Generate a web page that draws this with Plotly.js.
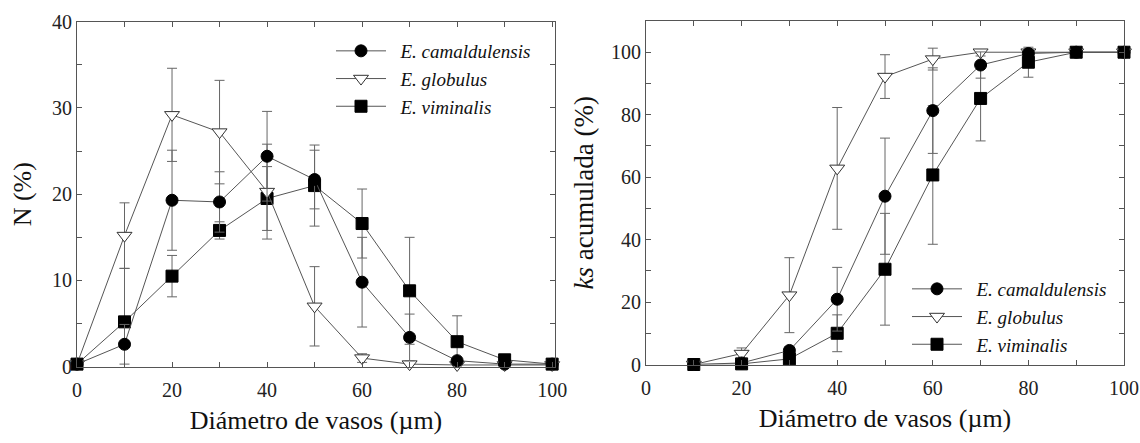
<!DOCTYPE html>
<html>
<head>
<meta charset="utf-8">
<script src="https://cdn.plot.ly/plotly-3.0.1.min.js"></script>
<style>html,body{margin:0;padding:0;background:#fff;}#chart{width:1140px;height:443px;}</style>
</head>
<body>
<div id="chart"></div>
<script>
// Left panel: vessel diameter frequency distribution N (%)
const diamN = [0, 10, 20, 30, 40, 50, 60, 70, 80, 90, 100];
const camN = [0.3, 2.6, 19.3, 19.1, 24.4, 21.7, 9.8, 3.4, 0.7, 0.3, 0.3];
const camNErr = [0, 2.3, 5.8, 3.5, 5.2, 3.4, 5.2, 2.7, 0, 0, 0];
const globN = [0.3, 15.2, 29.2, 27.2, 20.3, 7.0, 1.0, 0.3, 0.2, 0.2, 0.2];
const globNErr = [0, 3.8, 5.4, 6.0, 5.5, 4.6, 0.5, 0, 0, 0, 0];
const vimN = [0.3, 5.2, 10.5, 15.8, 19.5, 21.0, 16.6, 8.8, 2.9, 0.8, 0.3];
const vimNErr = [0, 6.2, 2.4, 1.0, 3.7, 4.7, 4.0, 6.2, 3.0, 0, 0];

// Right panel: cumulative ks (%)
const diamK = [10, 20, 30, 40, 50, 60, 70, 80, 90, 100];
const camK = [0, 0.5, 4.5, 20.9, 53.9, 81.3, 95.9, 99.6, 100, 100];
const camKErr = [0, 0, 1.0, 10.2, 18.6, 13.7, 4.2, 0, 0, 0];
const globK = [0, 3.5, 22.2, 62.8, 92.2, 97.8, 100, 100, 100, 100];
const globKErr = [0, 1.8, 12.0, 19.5, 7.0, 3.5, 0, 0, 0, 0];
const vimK = [0, 0.2, 1.8, 10.0, 30.5, 60.7, 85.2, 96.8, 100, 100];
const vimKErr = [0, 0, 0, 5.9, 17.9, 22.2, 13.6, 4.8, 0, 0];

const names = ['E. camaldulensis', 'E. globulus', 'E. viminalis'];
const xTitle = 'Diámetro de vasos (µm)';
const yTitleL = 'N (%)';
const yTitleR = '<i>ks</i> acumulada (%)';

const FONT = "'Liberation Serif', 'Times New Roman', Times, serif";
const lineCol = '#555555';
const errCol = '#666666';
const NB = '\u00a0';

function mk(x, y, err, name, symbol, xa, ya, legend) {
  const open = symbol === 'triangle-down';
  return {
    x: x, y: y, name: NB + NB + '<i>' + name + '</i>', type: 'scatter', mode: 'lines+markers',
    xaxis: xa, yaxis: ya, legend: legend,
    line: {color: lineCol, width: 1},
    marker: {symbol: symbol, size: open ? 13 : 12, color: open ? 'white' : 'black',
             line: {color: open ? '#333' : 'black', width: 1}},
    error_y: {type: 'data', array: err, visible: true, color: errCol, thickness: 1, width: 5},
    cliponaxis: false
  };
}

const data = [
  mk(diamN, vimN, vimNErr, names[2], 'square', 'x', 'y', 'legend'),
  mk(diamN, globN, globNErr, names[1], 'triangle-down', 'x', 'y', 'legend'),
  mk(diamN, camN, camNErr, names[0], 'circle', 'x', 'y', 'legend'),
  mk(diamK, vimK, vimKErr, names[2], 'square', 'x2', 'y2', 'legend2'),
  mk(diamK, globK, globKErr, names[1], 'triangle-down', 'x2', 'y2', 'legend2'),
  mk(diamK, camK, camKErr, names[0], 'circle', 'x2', 'y2', 'legend2')
];
// legend order: camaldulensis, globulus, viminalis
data.forEach(function(t, i){ t.legendrank = 3 - (i % 3); });

const W = 1140, H = 443;
function axX(domainPx, range, anchor) {
  return {
    domain: [domainPx[0] / W, domainPx[1] / W], range: range, anchor: anchor,
    showgrid: false, zeroline: false, showline: true, linecolor: lineCol, linewidth: 1, mirror: 'ticks',
    ticks: 'inside', ticklen: 5, tickcolor: lineCol, tick0: 0, dtick: 20, ticklabelstandoff: 5,
    minor: {ticks: 'inside', ticklen: 5, tickcolor: lineCol, dtick: 10, showgrid: false},
    tickfont: {family: FONT, size: 20, color: '#222'},
    title: {text: xTitle, font: {family: FONT, size: 26, color: '#111'}, standoff: 11},
    automargin: false
  };
}
function axY(domainPx, range, dtick, mdtick, title, standoff, tsize) {
  return {
    domain: [1 - domainPx[1] / H, 1 - domainPx[0] / H], range: range,
    showgrid: false, zeroline: false, showline: true, linecolor: lineCol, linewidth: 1, mirror: 'ticks',
    ticks: 'inside', ticklen: 5, tickcolor: lineCol, tick0: 0, dtick: dtick,
    minor: {ticks: 'inside', ticklen: 5, tickcolor: lineCol, dtick: mdtick, showgrid: false},
    tickfont: {family: FONT, size: 20, color: '#222'},
    title: {text: title, font: {family: FONT, size: tsize, color: '#111'}, standoff: standoff},
    automargin: false
  };
}

const layout = {
  width: W, height: H,
  margin: {l: 0, r: 0, t: 0, b: 0},
  paper_bgcolor: 'white', plot_bgcolor: 'white',
  font: {family: FONT, color: '#111'},
  xaxis: axX([77, 555], [0, 100.6], 'y'),
  yaxis: Object.assign(axY([21.7, 366.7], [0, 40], 10, 5, yTitleL, 12, 26), {anchor: 'x'}),
  xaxis2: axX([646, 1124], [0, 100], 'y2'),
  yaxis2: Object.assign(axY([21, 364.5], [0, 110], 20, 10,
                            yTitleR + NB + NB + NB + NB + NB + NB, 9, 27), {anchor: 'x2'}),
  showlegend: true,
  legend: {x: 331 / W, y: 1 - 32 / H, xanchor: 'left', yanchor: 'top', bgcolor: 'rgba(0,0,0,0)',
           font: {family: FONT, size: 19, color: '#111'}, itemwidth: 50, traceorder: 'normal'},
  legend2: {x: 907 / W, y: 1 - 270 / H, xanchor: 'left', yanchor: 'top', bgcolor: 'rgba(0,0,0,0)',
           font: {family: FONT, size: 19, color: '#111'}, itemwidth: 50, traceorder: 'normal'}
};

Plotly.newPlot('chart', data, layout, {staticPlot: true, displayModeBar: false});
</script>
</body>
</html>
